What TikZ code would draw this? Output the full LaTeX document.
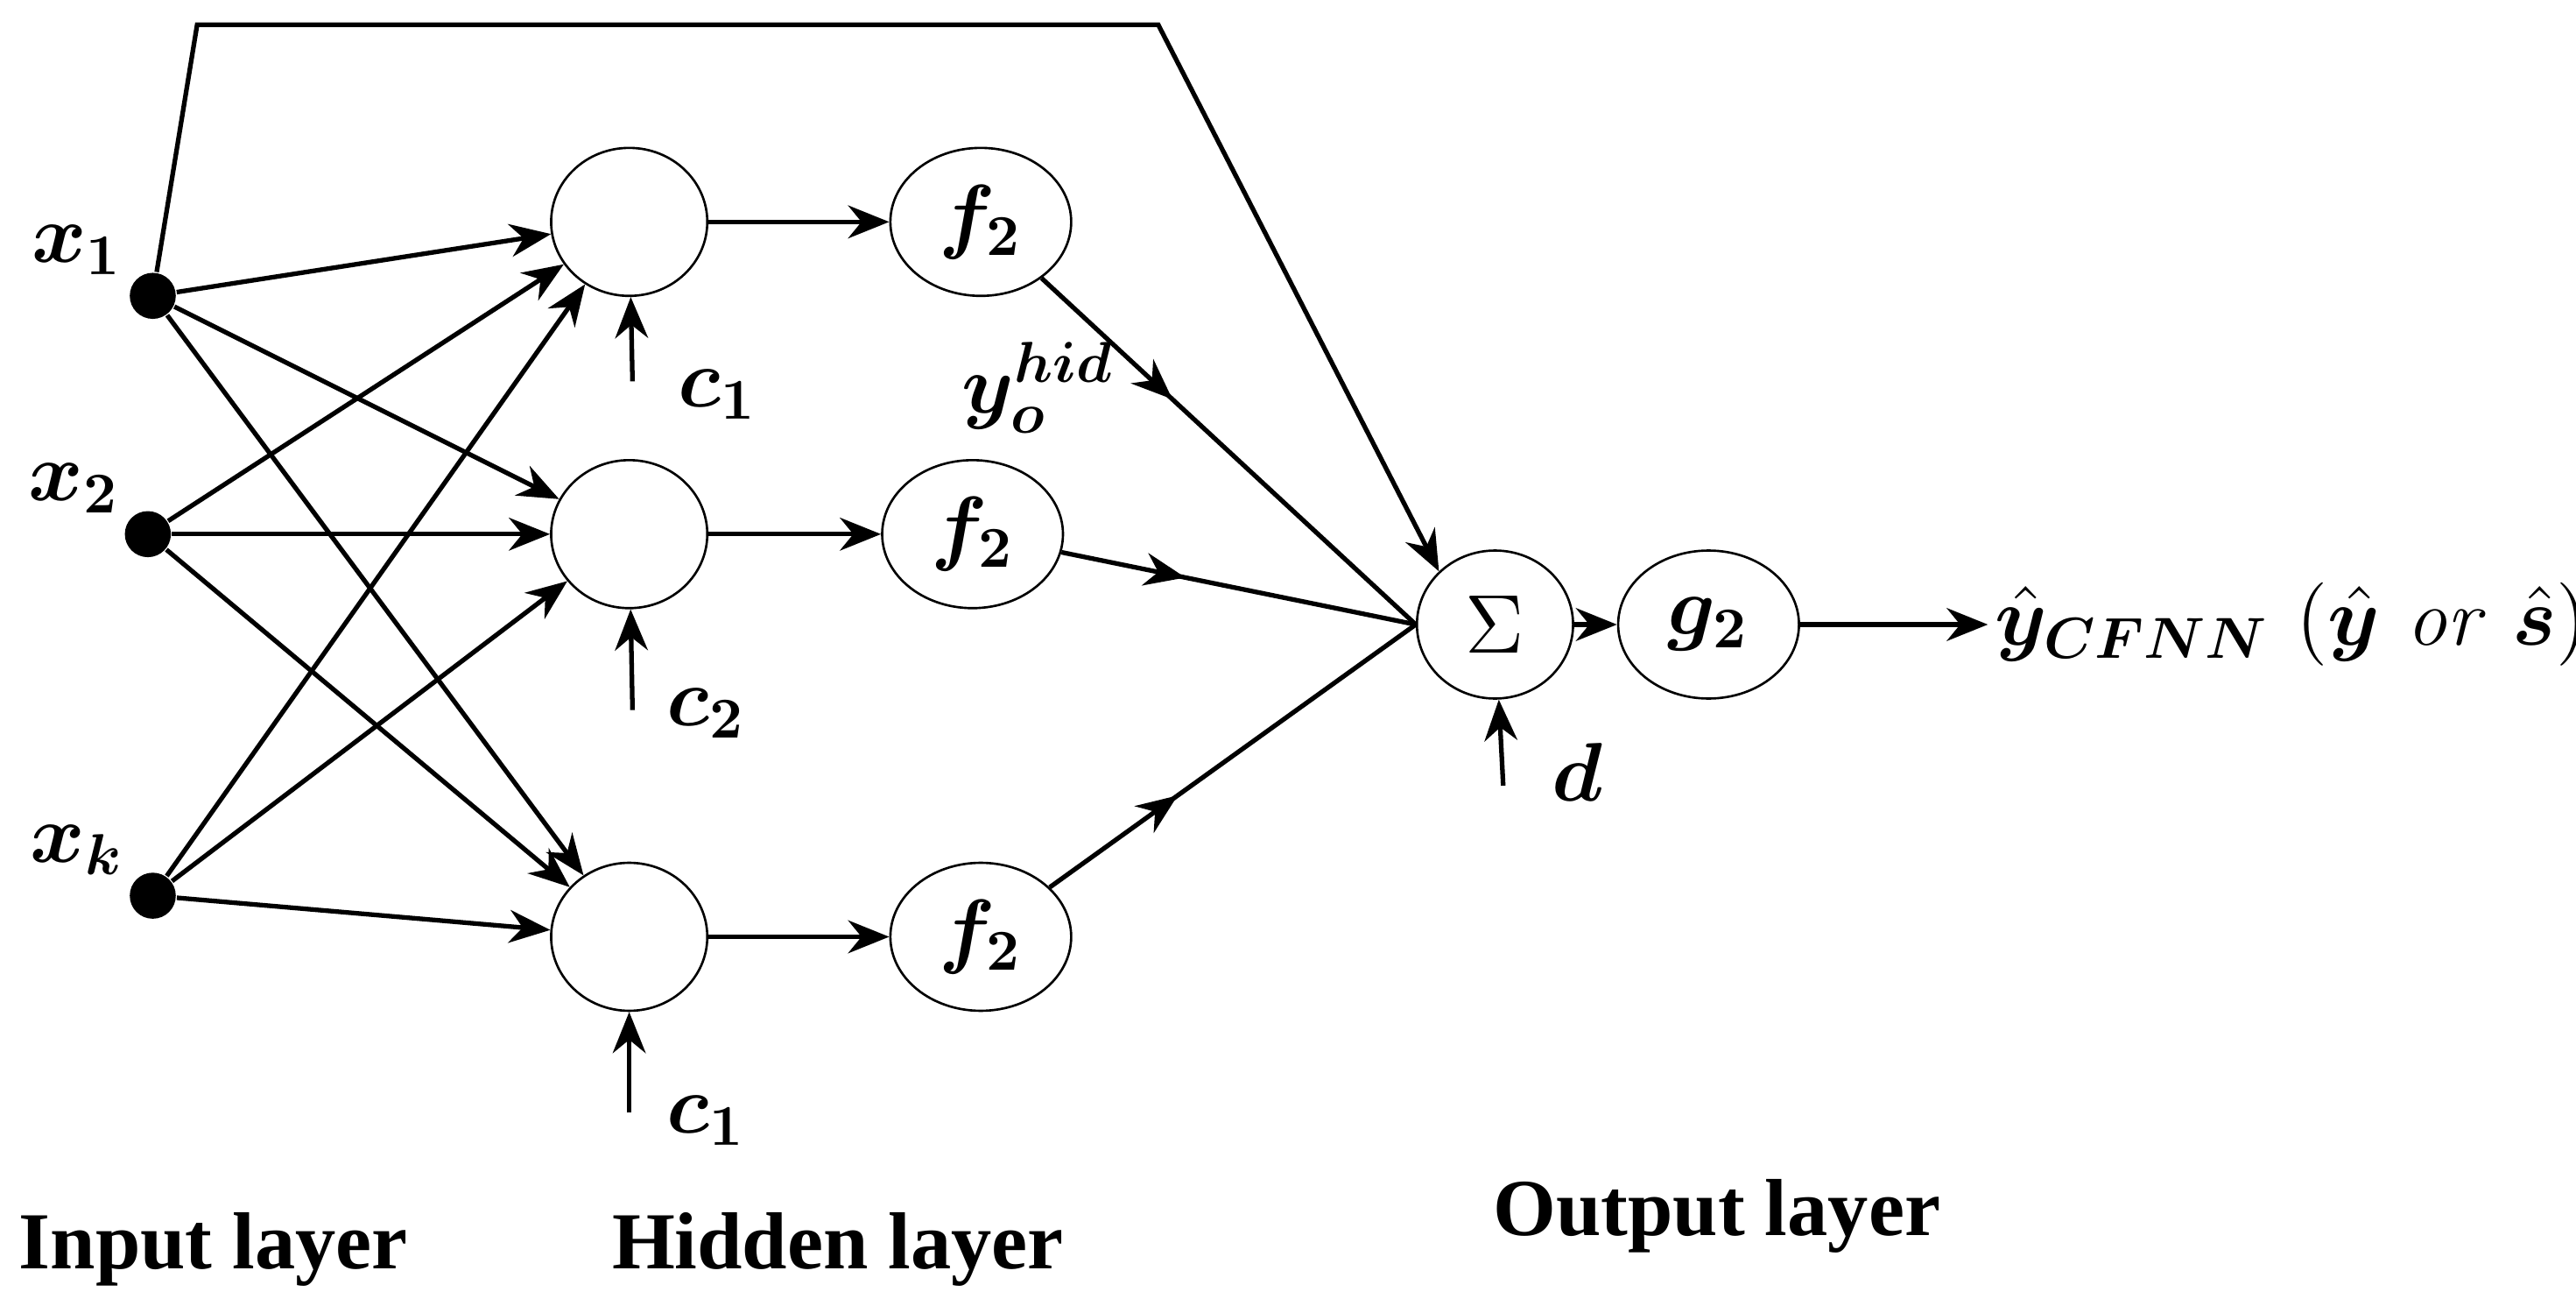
\documentclass[tikz,border=0pt]{standalone}
\usepackage{amsmath,amssymb,bm}
\usepackage{fontspec}
\newfontfamily\layerfont{Liberation Serif}
\usetikzlibrary{arrows.meta,decorations.markings,shapes.geometric}
\begin{document}
\begin{tikzpicture}[x=0.01cm,y=-0.01cm,
  neuron/.style={draw,ellipse,minimum width=0.95cm,minimum height=0.9cm,inner sep=0pt,font=\fontsize{14}{16}\selectfont},
  fnode/.style={draw,ellipse,minimum width=1.1cm,minimum height=0.9cm,inner sep=0pt,font=\fontsize{14}{16}\selectfont},
  dot/.style={circle,fill=black,minimum size=0.28cm,inner sep=0pt},
  arr/.style={-{Stealth[length=2.5mm,width=2mm]},line width=0.8pt},
  midarr/.style={line width=0.8pt,decoration={markings,mark=at position 0.35 with {\arrow{Stealth[length=2.5mm,width=2mm]}}},postaction=decorate},
  lbl/.style={font=\fontsize{14}{16}\selectfont},
  layer/.style={font=\fontsize{14}{16}\selectfont\layerfont\bfseries}]
\useasboundingbox (0,0) rectangle (1568,790);
% inputs
\node[dot] (i1) at (93,180) {};
\node[dot] (i2) at (90,325) {};
\node[dot] (ik) at (93,545) {};
\node[lbl] (lx1) at (47,152) {$\bm{x_1}$};
\node[lbl] (lx2) at (45,297) {$\bm{x_2}$};
\node[lbl] (lxk) at (47,517) {$\bm{x_k}$};
% hidden
\node[neuron] (s1) at (383,135) {$\mathit{\Sigma}$};
\node[neuron] (s2) at (383,325) {$\mathit{\Sigma}$};
\node[neuron] (s3) at (383,570) {$\mathit{\Sigma}$};
\node[fnode] (f1) at (597,135) {$\bm{f_2}$};
\node[fnode] (f2) at (592,325) {$\bm{f_2}$};
\node[fnode] (f3) at (597,570) {$\bm{f_2}$};
% output
\node[neuron] (so) at (910,380) {$\Sigma$};
\node[fnode] (g) at (1040,380) {$\bm{g_2}$};
\node[lbl,anchor=west,inner sep=1pt] (out) at (1210,380) {$\bm{\hat{y}_{CFNN}}$ $(\bm{\hat{y}}$ \textit{or} $\bm{\hat{s}})$};
% bias arrows
\coordinate (c1a) at (385,232); \coordinate (c2a) at (385,432); \coordinate (c3a) at (383,677); \coordinate (da) at (915,478);
\draw[arr] (c1a) -- (s1);
\draw[arr] (c2a) -- (s2);
\draw[arr] (c3a) -- (s3);
\draw[arr] (da) -- (so);
\node[lbl] (lc1) at (437,240) {$\bm{c_1}$};
\node[lbl] (lc2) at (430,434) {$\bm{c_2}$};
\node[lbl] (lc3) at (430,682) {$\bm{c_1}$};
\node[lbl] (ld) at (960,470) {$\bm{d}$};
\node[lbl] (ly) at (632,236) {$\bm{y_o^{hid}}$};
% input connections
\foreach \i in {i1,i2,ik}{\foreach \s in {s1,s2,s3}{\draw[arr] (\i) -- (\s);}}
% hidden chain
\draw[arr] (s1) -- (f1); \draw[arr] (s2) -- (f2); \draw[arr] (s3) -- (f3);
\draw[midarr] (f1) -- (so.west);
\draw[midarr] (f2) -- (so.west);
\draw[midarr] (f3) -- (so.west);
% skip connection
\coordinate (t1) at (120,15); \coordinate (t2) at (705,15);
\draw[arr] (i1) -- (t1) -- (t2) -- (so.north west);
\draw[arr] (so) -- (g);
\draw[arr] (g) -- (out);
% layer labels
\node[layer] (L1) at (130,760) {Input layer};
\node[layer] (L2) at (510,760) {Hidden layer};
\node[layer] (L3) at (1045,740) {Output layer};
\end{tikzpicture}
\end{document}
